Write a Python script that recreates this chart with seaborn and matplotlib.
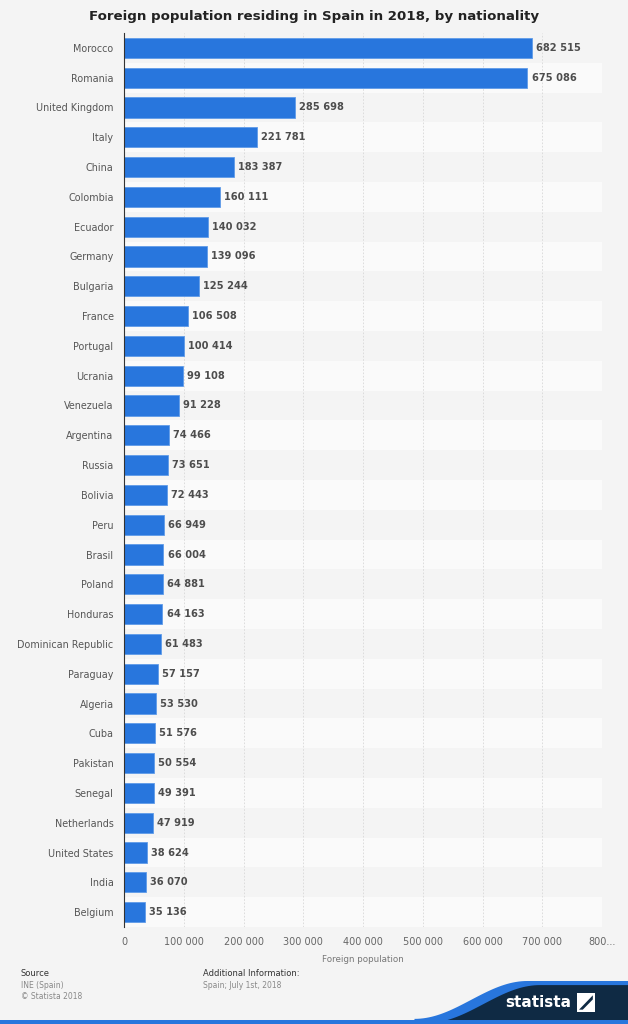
import matplotlib
matplotlib.use("Agg")
import matplotlib.pyplot as plt
import numpy as np
import pandas as pd
import seaborn as sns
from matplotlib.patches import Polygon, Rectangle

countries = [
    "Morocco", "Romania", "United Kingdom", "Italy", "China", "Colombia",
    "Ecuador", "Germany", "Bulgaria", "France", "Portugal", "Ucrania",
    "Venezuela", "Argentina", "Russia", "Bolivia", "Peru", "Brasil",
    "Poland", "Honduras", "Dominican Republic", "Paraguay", "Algeria",
    "Cuba", "Pakistan", "Senegal", "Netherlands", "United States", "India",
    "Belgium",
]
population = [
    682515, 675086, 285698, 221781, 183387, 160111, 140032, 139096, 125244,
    106508, 100414, 99108, 91228, 74466, 73651, 72443, 66949, 66004, 64881,
    64163, 61483, 57157, 53530, 51576, 50554, 49391, 47919, 38624, 36070,
    35136,
]
x_ticks = [0, 100000, 200000, 300000, 400000, 500000, 600000, 700000, 800000]
x_tick_labels = ["0", "100 000", "200 000", "300 000", "400 000", "500 000",
                 "600 000", "700 000", "800..."]

df = pd.DataFrame({"country": countries, "population": population})

bg = "#f4f4f4"
bar_color = "#2876dd"

sns.set_theme(style="white")
plt.rcParams["font.family"] = ["DejaVu Sans"]

fig = plt.figure(figsize=(6.28, 10.24), dpi=100, facecolor=bg)
ax = fig.add_axes([0.1975, 0.0947, 0.7611, 0.8731])
ax.set_facecolor(bg)

# alternating row bands
for i in range(len(countries)):
    if i % 2 == 1:
        ax.axhspan(i - 0.5, i + 0.5, color="#fafafa", zorder=0, lw=0)

for xt in x_ticks[1:]:
    ax.axvline(xt, color="#d8d8d8", lw=0.6, ls=(0, (2, 2)), zorder=0.5)

sns.barplot(data=df, x="population", y="country", orient="h", color=bar_color,
            width=0.68, saturation=1, ax=ax, zorder=2,
            edgecolor="#5f9be8", linewidth=0.6)

for i, v in enumerate(population):
    ax.text(v + 7000, i, f"{v:,}".replace(",", " "), va="center", ha="left",
            fontsize=7.1, fontweight="bold", color="#4d4d4d", zorder=3)

ax.set_xlim(0, 800000)
ax.set_ylim(len(countries) - 0.5, -0.5)
ax.set_xticks(x_ticks)
ax.set_xticklabels(x_tick_labels, fontsize=7, color="#666666")
ax.tick_params(axis="y", labelsize=6.9, labelcolor="#555555", length=0, pad=7.5)
ax.tick_params(axis="x", length=0, pad=7)
ax.set_xlabel("Foreign population", fontsize=6.3, color="#777777", labelpad=6)
ax.set_ylabel("")
for side in ["top", "right", "bottom"]:
    ax.spines[side].set_visible(False)
ax.spines["left"].set_color("#333333")
ax.spines["left"].set_linewidth(0.8)

fig.text(0.5, 0.984, "Foreign population residing in Spain in 2018, by nationality",
         ha="center", va="center", fontsize=9.6, fontweight="bold", color="#222222")

# footer
fig.text(0.033, 0.047, "Source", fontsize=6, color="#333333")
fig.text(0.033, 0.035, "INE (Spain)", fontsize=5.5, color="#888888")
fig.text(0.033, 0.024, "\u00a9 Statista 2018", fontsize=5.5, color="#888888")
fig.text(0.323, 0.047, "Additional Information:", fontsize=6, color="#333333")
fig.text(0.323, 0.035, "Spain; July 1st, 2018", fontsize=5.5, color="#888888")

xs = np.linspace(0.68, 0.86, 40)
wave = 0.003 + (0.04 - 0.003) * (0.5 - 0.5 * np.cos(np.pi * (xs - 0.68) / 0.18))
pts_blue = [(0.66, 0.0)] + list(zip(xs - 0.02, wave + 0.002)) + [(1.0, 0.042), (1.0, 0.0)]
pts_navy = [(0.68, 0.0)] + list(zip(xs, wave - 0.002)) + [(1.0, 0.038), (1.0, 0.0)]
fig.patches.append(Polygon(pts_blue, closed=True, transform=fig.transFigure,
                           facecolor="#2876dd", edgecolor="none"))
fig.patches.append(Polygon(pts_navy, closed=True, transform=fig.transFigure,
                           facecolor="#0f2a44", edgecolor="none"))
fig.patches.append(Rectangle((0, 0), 1, 0.004, transform=fig.transFigure,
                             facecolor="#2876dd", edgecolor="none"))
fig.text(0.91, 0.021, "statista", fontsize=11, fontweight="bold", color="white",
         ha="right", va="center")
fig.patches.append(Rectangle((0.918, 0.012), 0.03, 0.018, transform=fig.transFigure,
                             facecolor="white", edgecolor="none"))
fig.patches.append(Polygon([(0.922, 0.014), (0.944, 0.028), (0.944, 0.024), (0.928, 0.014)],
                           closed=True, transform=fig.transFigure,
                           facecolor="#0f2a44", edgecolor="none"))

fig.savefig("out.png", dpi=100, facecolor=bg)
